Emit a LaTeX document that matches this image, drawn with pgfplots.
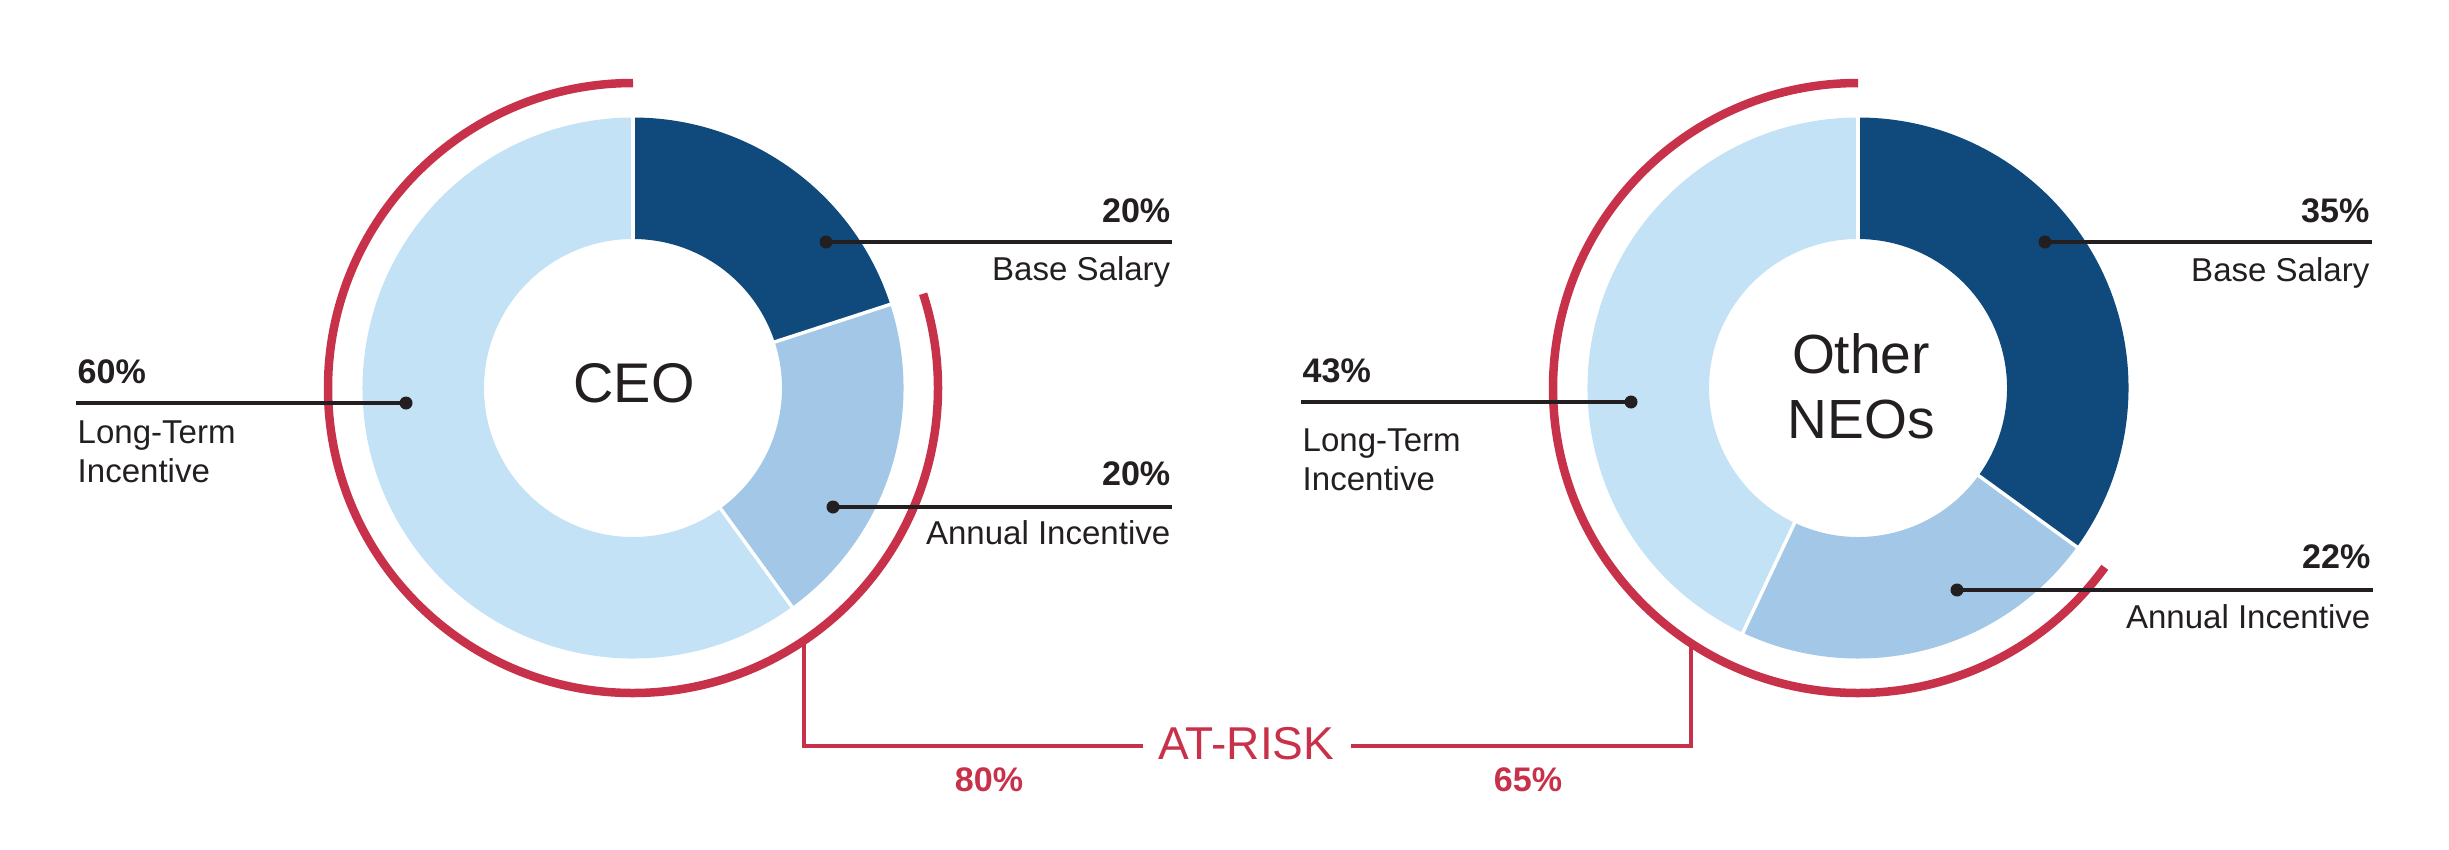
\documentclass[border=0pt]{standalone}
\usepackage{pgfplots}
\pgfplotsset{compat=1.18}
\usepackage{fontspec}
\setmainfont{Liberation Sans}
\usetikzlibrary{calc}
\definecolor{darkblue}{RGB}{16,74,124}
\definecolor{midblue}{RGB}{162,199,231}
\definecolor{lightblue}{RGB}{196,226,246}
\definecolor{atred}{RGB}{200,49,74}
\definecolor{textblack}{RGB}{35,31,32}
% #1 cx, #2 cy, #3 start (%), #4 share (%), #5 colour
\newcommand{\wedgepart}[5]{%
  \fill[#5] ($(axis cs:#1,#2)+({90-3.6*(#3)}:27.05mm)$)
    arc[start angle={90-3.6*(#3)}, end angle={90-3.6*(#3+#4)}, radius=27.05mm]
    -- ($(axis cs:#1,#2)+({90-3.6*(#3+#4)}:14.9mm)$)
    arc[start angle={90-3.6*(#3+#4)}, end angle={90-3.6*(#3)}, radius=14.9mm] -- cycle;}
\newcommand{\sep}[3]{%
  \draw[white, line width=0.35mm] ($(axis cs:#1,#2)+({90-3.6*(#3)}:14.6mm)$) -- ($(axis cs:#1,#2)+({90-3.6*(#3)}:27.4mm)$);}
% #1 cx, #2 cy, #3 at-risk share (%)
\newcommand{\riskarc}[3]{%
  \draw[atred, line width=0.85mm] ($(axis cs:#1,#2)+(90:30.5mm)$)
    arc[start angle=90, end angle={90+3.6*(#3)}, radius=30.5mm];}
\newcommand{\lbl}{\fontsize{9.4}{11}\selectfont}
\newcommand{\pct}{\bfseries\fontsize{9.7}{11}\selectfont}
\begin{document}
\begin{tikzpicture}
\path[use as bounding box] (0,0) rectangle (244.9mm,85mm);
\begin{axis}[
  at={(0,0)}, anchor=south west,
  scale only axis, width=244.9mm, height=85mm,
  xmin=0, xmax=2449, ymin=0, ymax=850, y dir=reverse,
  hide axis, clip=false]
% ---- CEO: Base Salary 20, Annual Incentive 20, Long-Term Incentive 60
\wedgepart{633}{388}{0}{20}{darkblue}
\wedgepart{633}{388}{20}{20}{midblue}
\wedgepart{633}{388}{40}{60}{lightblue}
\sep{633}{388}{0}\sep{633}{388}{20}\sep{633}{388}{40}
\riskarc{633}{388}{80}
% ---- Other NEOs: Base Salary 35, Annual Incentive 22, Long-Term Incentive 43
\wedgepart{1858}{388}{0}{35}{darkblue}
\wedgepart{1858}{388}{35}{22}{midblue}
\wedgepart{1858}{388}{57}{43}{lightblue}
\sep{1858}{388}{0}\sep{1858}{388}{35}\sep{1858}{388}{57}
\riskarc{1858}{388}{65}
% ---- at-risk bracket
\draw[atred, line width=0.34mm] (axis cs:804,641) -- (axis cs:804,746) -- (axis cs:1143,746);
\draw[atred, line width=0.34mm] (axis cs:1351,746) -- (axis cs:1691,746) -- (axis cs:1691,644);
\node[anchor=base, inner sep=0, text=atred, font=\fontsize{13.1}{15}\selectfont] at (axis cs:1246.5,759.5) {AT-RISK};
\node[anchor=base, inner sep=0, text=atred, font=\bfseries\fontsize{9.7}{11}\selectfont] at (axis cs:989,791) {80\%};
\node[anchor=base, inner sep=0, text=atred, font=\bfseries\fontsize{9.7}{11}\selectfont] at (axis cs:1528,791) {65\%};
% ---- centre titles
\node[anchor=base, inner sep=0, text=textblack, font=\fontsize{15.9}{18}\selectfont] at (axis cs:634,402.6) {CEO};
\node[anchor=base, inner sep=0, text=textblack, font=\fontsize{15.7}{18}\selectfont] at (axis cs:1861,373.7) {Other};
\node[anchor=base, inner sep=0, text=textblack, font=\fontsize{15.7}{18}\selectfont] at (axis cs:1861,438) {NEOs};
% ---- leader lines
\draw[textblack, line width=0.32mm] (axis cs:826,242) -- (axis cs:1172,242);
\draw[textblack, line width=0.32mm] (axis cs:833,507) -- (axis cs:1172,507);
\draw[textblack, line width=0.32mm] (axis cs:76,403) -- (axis cs:406,403);
\draw[textblack, line width=0.32mm] (axis cs:2045,242) -- (axis cs:2372,242);
\draw[textblack, line width=0.32mm] (axis cs:1957,590) -- (axis cs:2373,590);
\draw[textblack, line width=0.32mm] (axis cs:1301,402) -- (axis cs:1631,402);
\fill[textblack] (axis cs:826,242) circle[radius=0.65mm];
\fill[textblack] (axis cs:833,507) circle[radius=0.65mm];
\fill[textblack] (axis cs:406,403) circle[radius=0.65mm];
\fill[textblack] (axis cs:2045,242) circle[radius=0.65mm];
\fill[textblack] (axis cs:1957,590) circle[radius=0.65mm];
\fill[textblack] (axis cs:1631,402) circle[radius=0.65mm];
% ---- labels CEO
\node[anchor=base east, inner sep=0, text=textblack, font=\pct] at (axis cs:1171,222) {20\%};
\node[anchor=base east, inner sep=0, text=textblack, font=\lbl] at (axis cs:1171,280) {Base Salary};
\node[anchor=base east, inner sep=0, text=textblack, font=\pct] at (axis cs:1171,485) {20\%};
\node[anchor=base east, inner sep=0, text=textblack, font=\lbl] at (axis cs:1171,544) {Annual Incentive};
\node[anchor=base west, inner sep=0, text=textblack, font=\pct] at (axis cs:77,383) {60\%};
\node[anchor=base west, inner sep=0, text=textblack, font=\lbl] at (axis cs:77,443) {Long-Term};
\node[anchor=base west, inner sep=0, text=textblack, font=\lbl] at (axis cs:77,482) {Incentive};
% ---- labels Other NEOs
\node[anchor=base east, inner sep=0, text=textblack, font=\pct] at (axis cs:2370,222) {35\%};
\node[anchor=base east, inner sep=0, text=textblack, font=\lbl] at (axis cs:2370,281) {Base Salary};
\node[anchor=base east, inner sep=0, text=textblack, font=\pct] at (axis cs:2371,568) {22\%};
\node[anchor=base east, inner sep=0, text=textblack, font=\lbl] at (axis cs:2371,628) {Annual Incentive};
\node[anchor=base west, inner sep=0, text=textblack, font=\pct] at (axis cs:1302,382) {43\%};
\node[anchor=base west, inner sep=0, text=textblack, font=\lbl] at (axis cs:1302,451) {Long-Term};
\node[anchor=base west, inner sep=0, text=textblack, font=\lbl] at (axis cs:1302,490) {Incentive};
\end{axis}
\end{tikzpicture}
\end{document}
